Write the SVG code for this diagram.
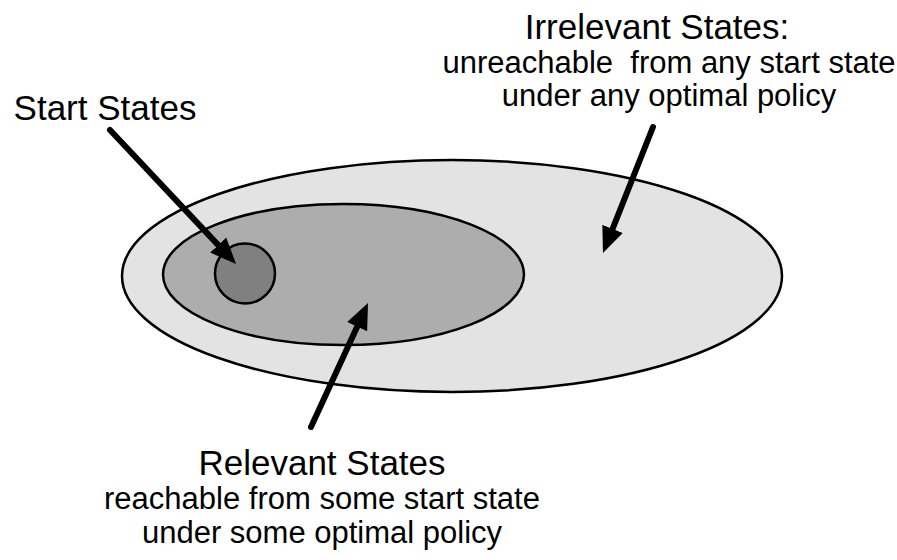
<svg xmlns="http://www.w3.org/2000/svg" width="897" height="560" viewBox="0 0 897 560">
<style>
.sh{stroke:#000;stroke-width:2.5}
.t{font-family:"Liberation Sans",Arial,sans-serif;fill:#000;text-anchor:middle}
.big{font-size:35px}
.sm{font-size:31px}
.arr{stroke:#000;stroke-width:6;fill:none;stroke-linecap:round;marker-end:url(#ah)}
</style>
<defs>
<marker id="ah" markerUnits="userSpaceOnUse" markerWidth="30" markerHeight="24" refX="8" refY="11" orient="auto" viewBox="0 0 30 22">
<path d="M0,0 L26,11 L0,22 z" fill="#000"/>
</marker>
</defs>
<rect width="897" height="560" fill="#fff"/>
<g id="irrelevant">
<ellipse class="sh" cx="452" cy="276" rx="330" ry="116" fill="#e3e3e3"/>
</g>
<g id="relevant">
<ellipse class="sh" cx="343.5" cy="274.5" rx="180.5" ry="70.5" fill="#adadad"/>
</g>
<g id="start">
<circle class="sh" cx="245" cy="273.5" r="30" fill="#808080"/>
</g>
<g id="connectors">
<path class="arr" d="M110,130 L223.7,250.9"/>
<path class="arr" d="M653,127 L609.6,236.3"/>
<path class="arr" d="M311,427 L360.5,319.4"/>
</g>
<g id="label-start">
<text class="t big" x="105" y="120">Start States</text>
</g>
<g id="label-irrelevant">
<text class="t big" x="657" y="39">Irrelevant States:</text>
<text class="t sm" x="669" y="73" xml:space="preserve">unreachable  from any start state</text>
<text class="t sm" x="669" y="106">under any optimal policy</text>
</g>
<g id="label-relevant">
<text class="t big" x="322" y="475">Relevant States</text>
<text class="t sm" x="322" y="509">reachable from some start state</text>
<text class="t sm" x="322" y="543">under some optimal policy</text>
</g>
</svg>
